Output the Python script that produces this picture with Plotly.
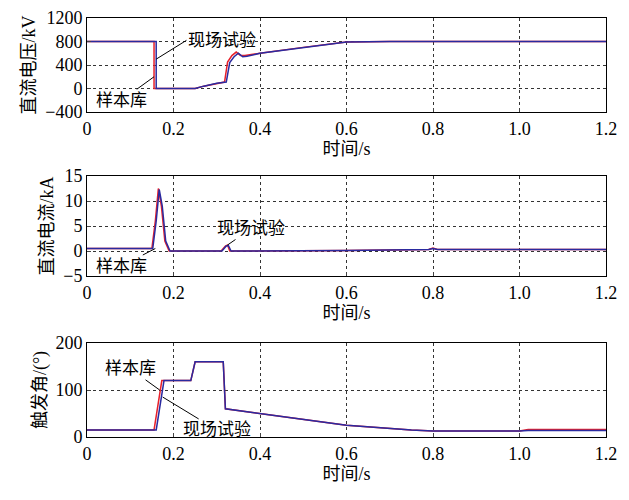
import plotly.graph_objects as go

t_v_red = [0, 0.155, 0.155, 0.25, 0.27, 0.3, 0.318, 0.325, 0.335, 0.345, 0.355, 0.365, 0.4, 0.5, 0.6, 0.7, 1.2]
v_red = [800, 800, 0, 0, 40, 90, 110, 450, 560, 620, 560, 560, 600, 700, 790, 800, 800]
t_v_blue = [0, 0.16, 0.16, 0.25, 0.27, 0.3, 0.322, 0.33, 0.34, 0.35, 0.36, 0.37, 0.4, 0.5, 0.6, 0.7, 1.2]
v_blue = [800, 800, 0, 0, 40, 90, 110, 440, 540, 600, 540, 550, 600, 700, 790, 800, 800]

t_i_red = [0, 0.15, 0.158, 0.165, 0.172, 0.18, 0.19, 0.31, 0.32, 0.325, 0.33, 0.34, 0.6, 0.79, 0.8, 0.81, 1.2]
i_red = [0.5, 0.5, 6, 12.5, 9, 2, 0, 0, 1, 1.2, 0, 0, 0.1, 0.3, 0.6, 0.3, 0.3]
t_i_blue = [0, 0.152, 0.16, 0.167, 0.174, 0.182, 0.192, 0.312, 0.322, 0.327, 0.333, 0.34, 0.6, 0.79, 0.8, 0.81, 1.2]
i_blue = [0.5, 0.5, 6, 12.3, 9, 2, 0, 0, 1, 1.1, 0, 0, 0.1, 0.3, 0.5, 0.3, 0.3]

t_a_red = [0, 0.155, 0.173, 0.24, 0.25, 0.315, 0.32, 0.4, 0.6, 0.75, 0.8, 1.0, 1.02, 1.2]
a_red = [15, 15, 120, 120, 160, 160, 60, 50, 25, 15, 13, 13, 16, 16]
t_a_blue = [0, 0.16, 0.178, 0.24, 0.25, 0.315, 0.32, 0.4, 0.6, 0.75, 0.8, 1.0, 1.02, 1.2]
a_blue = [15, 15, 120, 120, 160, 160, 60, 50, 25, 15, 13, 13, 14, 14]

RED, BLUE = "#e8202a", "#2a2aa0"
num = "Liberation Serif"
cjk = "Liberation Serif, Noto Sans CJK SC"
fig = go.Figure()
sets = [(t_v_red, v_red, t_v_blue, v_blue, ""), (t_i_red, i_red, t_i_blue, i_blue, "2"), (t_a_red, a_red, t_a_blue, a_blue, "3")]
for tr, yr_, tb, yb, s in sets:
    fig.add_trace(go.Scatter(x=tr, y=yr_, mode="lines", line=dict(color=RED, width=1.5), xaxis="x"+s, yaxis="y"+s, showlegend=False))
    fig.add_trace(go.Scatter(x=tb, y=yb, mode="lines", line=dict(color=BLUE, width=1.5), xaxis="x"+s, yaxis="y"+s, showlegend=False))

H = 484
T = 10
PH = 429 - T
def d(top, bot):
    return [(429 - (bot - 8)) / PH, min(1.0, (429 - (top - 8)) / PH)]
doms = [d(18, 112), d(176, 276), d(343, 437)]
yr = [([-400, 1200], [-400, 0, 400, 800, 1200], "直流电压/kV"), ([-5, 15], [-5, 0, 5, 10, 15], "直流电流/kA"), ([0, 200], [0, 100, 200], "触发角/(°)")]
ax_common = dict(showline=True, mirror=True, linecolor="black", linewidth=1, ticks="inside", ticklen=4,
                 showgrid=True, gridcolor="#333", griddash="dot", gridwidth=1, zeroline=False, automargin=False,
                 tickfont=dict(family=num, size=18, color="black"))
lay = {}
for k, s in enumerate(["", "2", "3"]):
    lay["xaxis" + s] = dict(ax_common, domain=[0, 1], anchor="y" + s, range=[0, 1.2],
                           tickvals=[0, 0.2, 0.4, 0.6, 0.8, 1.0, 1.2], ticktext=["0", "0.2", "0.4", "0.6", "0.8", "1.0", "1.2"],
                           title=dict(text="时间/s", standoff=2, font=dict(family=cjk, size=18, color="black")))
    lay["yaxis" + s] = dict(ax_common, domain=doms[k], anchor="x" + s, range=yr[k][0], tickvals=yr[k][1],
                           title=dict(text=yr[k][2], standoff=4, font=dict(family=cjk, size=18, color="black")))
fig.update_layout(**lay, width=613, height=H, margin=dict(l=79, r=15, t=T, b=55, autoexpand=False),
                  plot_bgcolor="white", paper_bgcolor="white")

anns = [("x", "y", "现场试验", 0.16, 500, 0.23, 820, "left"), ("x", "y", "样本库", 0.155, 200, 0.08, -200, "center"),
        ("x2", "y2", "现场试验", 0.325, 1.2, 0.38, 4.5, "center"), ("x2", "y2", "样本库", 0.158, 0.5, 0.08, -3, "center"),
        ("x3", "y3", "样本库", 0.168, 100, 0.1, 145, "center"), ("x3", "y3", "现场试验", 0.175, 85, 0.3, 15, "center")]
for xa, ya, txt, px, py, tx, ty, al in anns:
    fig.add_annotation(xref=xa, yref=ya, x=px, y=py, ax=tx, ay=ty, axref=xa, ayref=ya, text=txt, showarrow=True,
                       arrowhead=0, arrowwidth=1, arrowcolor="black", xanchor=al,
                       font=dict(family=cjk, size=17, color="black"), bgcolor="rgba(0,0,0,0)")
fig.write_html("out.html")
